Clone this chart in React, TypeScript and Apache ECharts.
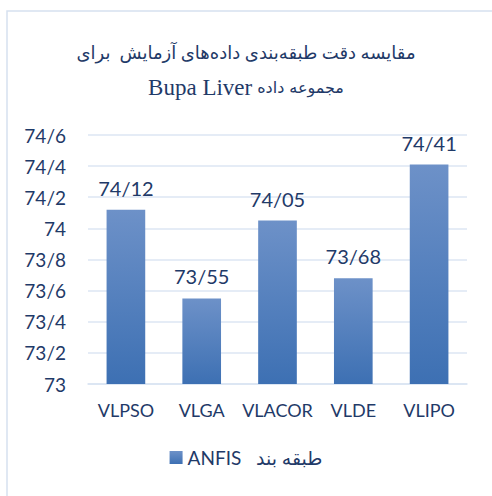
import React, { useEffect, useRef } from "react";
import * as echarts from "echarts";

const categories = ["VLPSO", "VLGA", "VLACOR", "VLDE", "VLIPO"];
const values = [74.12, 73.55, 74.05, 73.68, 74.41];
const titleLine1 = "مقایسه دقت طبقه‌بندی داده‌های آزمایش  برای";
const titleLine2Latin = "Bupa Liver";
const titleLine2Persian = "مجموعه داده";
const seriesName = "\u202Bطبقه بند   ANFIS\u202C";

export default function App() {
  const ref = useRef<HTMLDivElement>(null);
  useEffect(() => {
    document.body.style.margin = "0";
    const chart = echarts.init(ref.current!, null, { renderer: "svg" });
    const navy = "#1f3a68";
    chart.setOption({
      animation: false,
      backgroundColor: "#ffffff",
      graphic: [
        {
          type: "rect",
          shape: { x: 7, y: 11, width: 500, height: 500 },
          style: { fill: "none", stroke: "#d6e1f0", lineWidth: 1.5 },
          silent: true,
        },
      ],
      title: [
        {
          text: titleLine1,
          left: "center",
          top: 39,
          textStyle: {
            fontFamily: "'Liberation Serif', 'DejaVu Sans'",
            fontSize: 18,
            fontWeight: "normal",
            color: navy,
          },
        },
        {
          text: "{a|" + titleLine2Latin + "} {b|" + titleLine2Persian + "}",
          left: "center",
          top: 71,
          textStyle: {
            fontWeight: "normal",
            rich: {
              a: {
                fontFamily: "'Liberation Serif'",
                fontSize: 23,
                fontWeight: "normal",
                color: navy,
              },
              b: {
                fontFamily: "'DejaVu Sans'",
                fontSize: 16,
                fontWeight: "normal",
                color: navy,
              },
            },
          },
        },
      ],
      legend: {
        bottom: 24,
        left: "center",
        itemWidth: 13,
        itemHeight: 13,
        itemGap: 8,
        icon: "rect",
        textStyle: { fontFamily: "Lato, 'DejaVu Sans'", fontSize: 19, color: navy },
      },
      grid: { left: 88, right: 25, top: 135, bottom: 112 },
      xAxis: {
        type: "category",
        data: categories,
        axisTick: { show: false },
        axisLine: { lineStyle: { color: "#d9e4f2", width: 1.5 } },
        axisLabel: {
          interval: 0,
          fontFamily: "Lato",
          fontSize: 18,
          color: navy,
          margin: 17,
        },
      },
      yAxis: {
        type: "value",
        min: 73,
        max: 74.6,
        interval: 0.2,
        axisLine: { show: false },
        axisTick: { show: false },
        splitLine: { lineStyle: { color: "#dce6f3", width: 1.5 } },
        axisLabel: {
          fontFamily: "Lato",
          fontSize: 19,
          color: navy,
          margin: 22,
          formatter: (v: number) => String(Math.round(v * 10) / 10).replace(".", "/"),
        },
      },
      series: [
        {
          name: seriesName,
          type: "bar",
          data: values,
          barWidth: "51%",
          itemStyle: {
            color: new echarts.graphic.LinearGradient(0, 0, 0, 1, [
              { offset: 0, color: "#6d91c8" },
              { offset: 1, color: "#3d70b3" },
            ]),
          },
          label: {
            show: true,
            position: "top",
            distance: 12,
            fontFamily: "Lato",
            fontSize: 20,
            color: navy,
            formatter: (p: any) => Number(p.value).toFixed(2).replace(".", "/"),
          },
        },
      ],
    });
    return () => chart.dispose();
  }, []);
  return <div ref={ref} style={{ width: 492, height: 496 }} />;
}
